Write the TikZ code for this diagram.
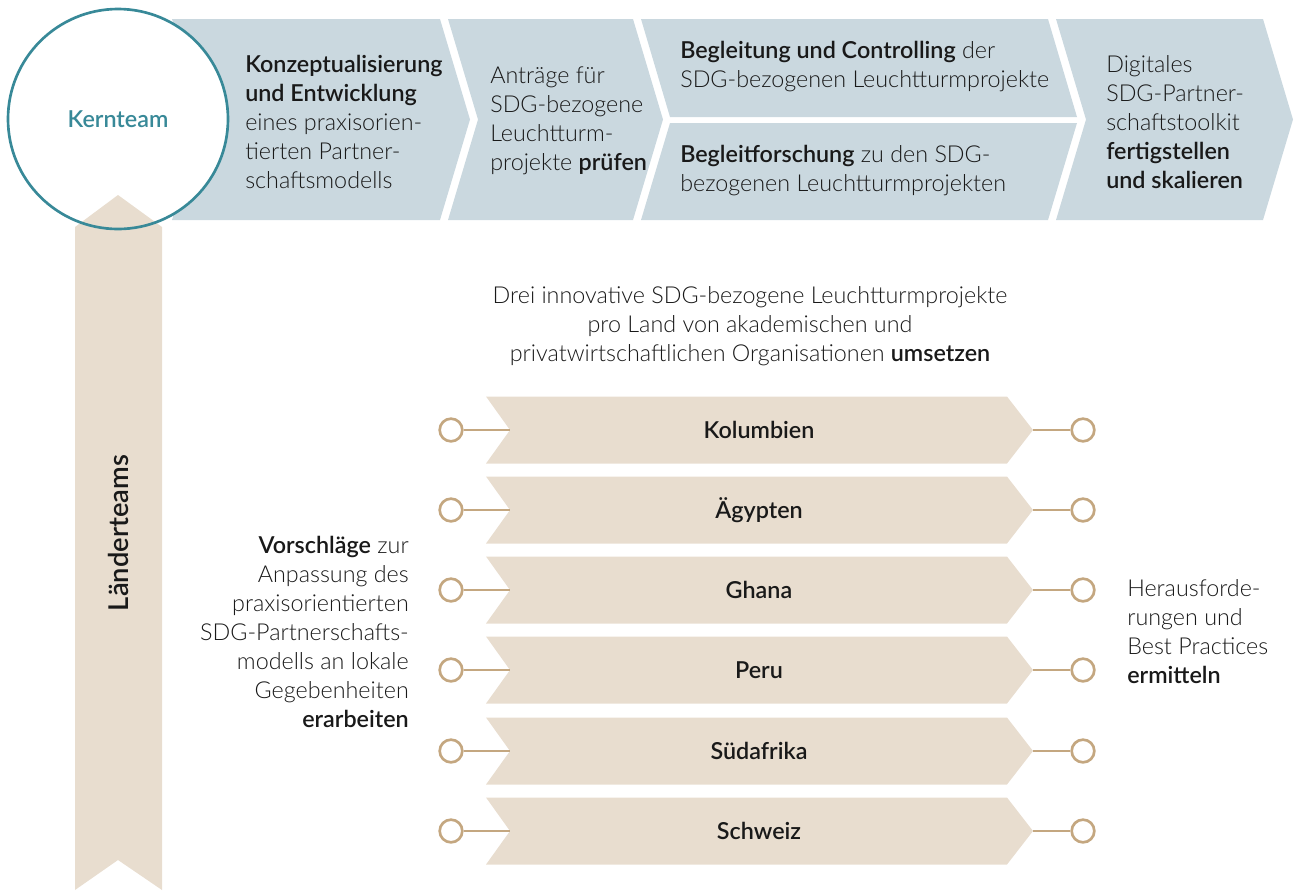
\documentclass[tikz,border=0pt]{standalone}
\usepackage{fontspec}
\setmainfont{Lato Light}[BoldFont={Lato Semibold}]
\usepackage{tikz}
\definecolor{chevblue}{RGB}{202,216,223}
\definecolor{sand}{RGB}{232,221,207}
\definecolor{tan}{RGB}{196,167,128}
\definecolor{petrol}{RGB}{56,137,152}
\definecolor{ink}{RGB}{25,25,25}

\begin{document}
\begin{tikzpicture}[x=0.75pt,y=-0.75pt,
  chev/.style={fill=chevblue},
  band/.style={fill=sand},
  txt/.style={font=\fontsize{17.5}{21.75}\selectfont,text=ink,inner sep=0pt},
  lbl/.style={txt,font=\fontsize{17.5}{21.75}\selectfont\bfseries},
  dot/.style={circle,draw=tan,line width=2pt,fill=white,minimum size=17pt,inner sep=0pt},
  stem/.style={draw=tan,line width=1.8pt}]
\useasboundingbox (0,0) rectangle (1300,890);
\fill[chev] (172,19) -- (440,19) -- (470,119.5) -- (440,220) -- (172,220) -- (202,119.5) -- cycle;
\fill[chev] (448,19) -- (633,19) -- (663,119.5) -- (633,220) -- (448,220) -- (478,119.5) -- cycle;
\fill[chev] (641,19) -- (1048,19) -- (1077,117) -- (670,117) -- cycle;
\fill[chev] (670,123) -- (1077,123) -- (1048,220) -- (641,220) -- cycle;
\fill[chev] (1056,19) -- (1263,19) -- (1293,119.5) -- (1263,220) -- (1056,220) -- (1086,119.5) -- cycle;
\node[circle,fill=white,minimum size=165pt,inner sep=0pt,text=petrol,font=\fontsize{17.5}{21.75}\selectfont\bfseries] (kern) at (118,119) {Kernteam};
\fill[band] (75,227) -- (118,195) -- (162,227) -- (162,890) -- (118,860) -- (75,890) -- cycle;
\draw[petrol,line width=2pt] (kern.center) circle[radius=82.5pt];
\node[txt,font=\fontsize{20.5}{24}\selectfont\bfseries,rotate=90] (laender) at (118,533) {Länderteams};
\node[txt,align=left,anchor=west] (konzept) at (245,122) {\textbf{Konzeptualisierung}\\\textbf{und Entwicklung}\\eines praxisorien-\\tierten Partner-\\schaftsmodells};
\node[txt,align=left,anchor=west] (antraege) at (490,121) {Anträge für\\SDG-bezogene\\Leuchtturm-\\projekte \textbf{prüfen}};
\node[txt,align=left,anchor=west] (controlling) at (680,67) {\textbf{Begleitung und Controlling} der\\SDG-bezogenen Leuchtturmprojekte};
\node[txt,align=left,anchor=west] (forschung) at (680,171) {\textbf{Begleitforschung} zu den SDG-\\bezogenen Leuchtturmprojekten};
\node[txt,align=left,anchor=west] (toolkit) at (1106,122) {Digitales\\SDG-Partner-\\schaftstoolkit\\\textbf{fertigstellen}\\\textbf{und skalieren}};
\node[txt,align=center] (umsetzen) at (750,326) {Drei innovative SDG-bezogene Leuchtturmprojekte\\pro Land von akademischen und\\privatwirtschaftlichen Organisationen \textbf{umsetzen}};
\node[txt,align=right,anchor=east] (vorschlaege) at (409,632) {\textbf{Vorschläge} zur\\Anpassung des\\praxisorientierten\\SDG-Partnerschafts-\\modells an lokale\\Gegebenheiten\\\textbf{erarbeiten}};
\node[txt,align=left,anchor=west] (ermitteln) at (1127,632) {Herausforde-\\rungen und\\Best Practices\\\textbf{ermitteln}};
\fill[band] (486,396.5) -- (1007,396.5) -- (1033,430) -- (1007,463.5) -- (486,463.5) -- (510,430) -- cycle;
\node[lbl] (kolumbien) at (759,430) {Kolumbien};
\coordinate (kolumbien-in) at (510,430);
\coordinate (kolumbien-out) at (1033,430);
\node[dot] (kolumbien-l) at (451,430) {};
\node[dot] (kolumbien-r) at (1083,430) {};
\draw[stem] (kolumbien-l) -- (kolumbien-in);
\draw[stem] (kolumbien-out) -- (kolumbien-r);
\fill[band] (486,476.5) -- (1007,476.5) -- (1033,510) -- (1007,543.5) -- (486,543.5) -- (510,510) -- cycle;
\node[lbl] (aegypten) at (759,510) {Ägypten};
\coordinate (aegypten-in) at (510,510);
\coordinate (aegypten-out) at (1033,510);
\node[dot] (aegypten-l) at (451,510) {};
\node[dot] (aegypten-r) at (1083,510) {};
\draw[stem] (aegypten-l) -- (aegypten-in);
\draw[stem] (aegypten-out) -- (aegypten-r);
\fill[band] (486,556.5) -- (1007,556.5) -- (1033,590) -- (1007,623.5) -- (486,623.5) -- (510,590) -- cycle;
\node[lbl] (ghana) at (759,590) {Ghana};
\coordinate (ghana-in) at (510,590);
\coordinate (ghana-out) at (1033,590);
\node[dot] (ghana-l) at (451,590) {};
\node[dot] (ghana-r) at (1083,590) {};
\draw[stem] (ghana-l) -- (ghana-in);
\draw[stem] (ghana-out) -- (ghana-r);
\fill[band] (486,636.5) -- (1007,636.5) -- (1033,670) -- (1007,703.5) -- (486,703.5) -- (510,670) -- cycle;
\node[lbl] (peru) at (759,670) {Peru};
\coordinate (peru-in) at (510,670);
\coordinate (peru-out) at (1033,670);
\node[dot] (peru-l) at (451,670) {};
\node[dot] (peru-r) at (1083,670) {};
\draw[stem] (peru-l) -- (peru-in);
\draw[stem] (peru-out) -- (peru-r);
\fill[band] (486,717.5) -- (1007,717.5) -- (1033,751) -- (1007,784.5) -- (486,784.5) -- (510,751) -- cycle;
\node[lbl] (suedafrika) at (759,751) {Südafrika};
\coordinate (suedafrika-in) at (510,751);
\coordinate (suedafrika-out) at (1033,751);
\node[dot] (suedafrika-l) at (451,751) {};
\node[dot] (suedafrika-r) at (1083,751) {};
\draw[stem] (suedafrika-l) -- (suedafrika-in);
\draw[stem] (suedafrika-out) -- (suedafrika-r);
\fill[band] (486,797.5) -- (1007,797.5) -- (1033,831) -- (1007,864.5) -- (486,864.5) -- (510,831) -- cycle;
\node[lbl] (schweiz) at (759,831) {Schweiz};
\coordinate (schweiz-in) at (510,831);
\coordinate (schweiz-out) at (1033,831);
\node[dot] (schweiz-l) at (451,831) {};
\node[dot] (schweiz-r) at (1083,831) {};
\draw[stem] (schweiz-l) -- (schweiz-in);
\draw[stem] (schweiz-out) -- (schweiz-r);
\end{tikzpicture}
\end{document}
